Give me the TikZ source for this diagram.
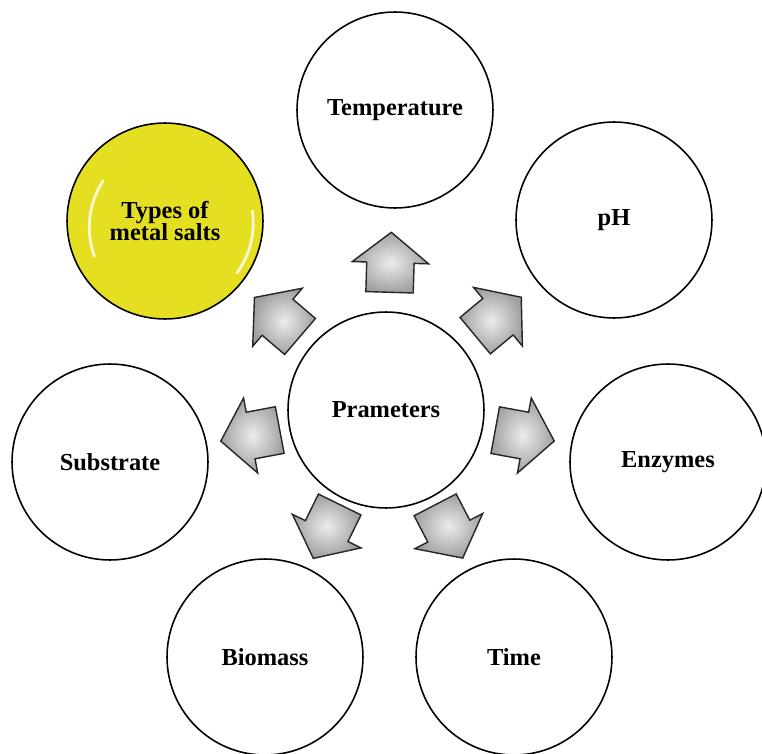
\documentclass[tikz,border=0pt]{standalone}
\usepackage{fontspec}
\setmainfont{Liberation Serif}
\usetikzlibrary{shapes.arrows,calc}
\definecolor{saltyellow}{RGB}{229,223,34}
\definecolor{arrowgray}{RGB}{160,160,160}
\tikzset{
  param/.style={circle,draw=black,line width=0.9pt,fill=white,minimum size=3.92cm,inner sep=0pt,align=center,font=\fontsize{13.9}{13}\selectfont\bfseries},
  paramarrow/.style={single arrow,draw=black!85,line width=0.8pt,inner color=gray!15,outer color=arrowgray,minimum height=1.2cm,inner xsep=0pt,inner ysep=0.46cm,single arrow head extend=0.29cm,single arrow tip angle=103,pos=0,anchor=tail,sloped,allow upside down},
  gloss/.style={white,line width=1.6pt,line cap=round,opacity=0.8}
}
\begin{document}
\begin{tikzpicture}[x=0.02cm,y=-0.02cm]
\useasboundingbox (0,0) rectangle (762,754);
% Koordinaten
\coordinate (parpos) at (386,410);
\coordinate (temppos) at (395,110);
\coordinate (phpos) at (614,220);
\coordinate (enzpos) at (668,462);
\coordinate (timepos) at (514,657);
\coordinate (biopos) at (265,657);
\coordinate (subpos) at (110,462);
\coordinate (saltpos) at (165,221);

% Kreise
\node[param] (par) at (parpos) {Prameters};
\node[param] (temp) at (temppos) {Temperature};
\node[param] (ph) at (phpos) {pH};
\node[param] (enz) at (enzpos) {Enzymes};
\node[param] (time) at (timepos) {Time};
\node[param] (bio) at (biopos) {Biomass};
\node[param] (sub) at (subpos) {Substrate};
\node[param,fill=saltyellow] (salt) at (saltpos) {Types of\\metal salts};

% Glanz
\draw[gloss] ($(salt.center)+(-62,-40)$) arc[start angle=147,end angle=200,radius=1.7cm];
\draw[gloss] ($(salt.center)+(72,52)$) arc[start angle=-36,end angle=8,radius=1.7cm];

% Pfeile
\path ($(par)!0.5!(temp)!0.66cm!(par)$) -- node[paramarrow] (arrtemp) {} (temp);
\path ($(par)!0.5!(ph)!0.66cm!(par)$) -- node[paramarrow] (arrph) {} (ph);
\path ($(par)!0.5!(enz)!0.66cm!(par)$) -- node[paramarrow] (arrenz) {} (enz);
\path ($(par)!0.5!(time)!0.66cm!(par)$) -- node[paramarrow] (arrtime) {} (time);
\path ($(par)!0.5!(bio)!0.66cm!(par)$) -- node[paramarrow] (arrbio) {} (bio);
\path ($(par)!0.5!(sub)!0.66cm!(par)$) -- node[paramarrow] (arrsub) {} (sub);
\path ($(par)!0.5!(salt)!0.66cm!(par)$) -- node[paramarrow] (arrsalt) {} (salt);
\end{tikzpicture}
\end{document}
